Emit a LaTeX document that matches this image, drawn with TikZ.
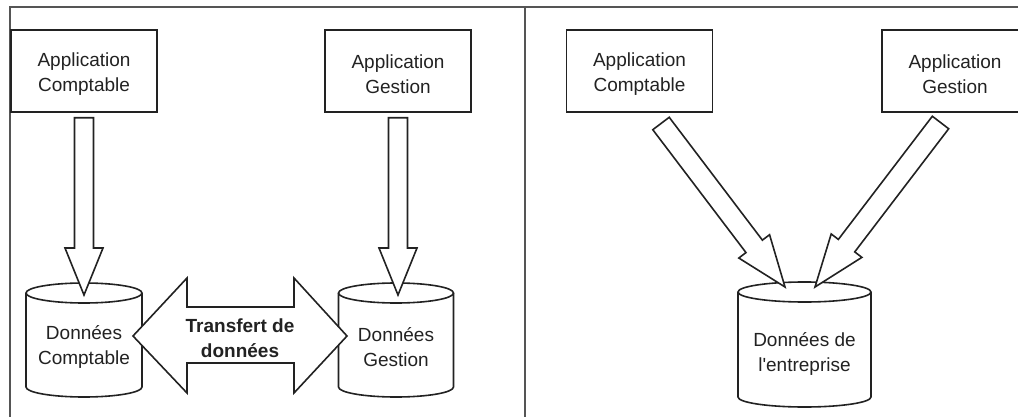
\documentclass[tikz,border=0pt]{standalone}
\usepackage{fontspec}
\setmainfont{Liberation Sans}[Ligatures=TeXOff]
\usetikzlibrary{calc}
\definecolor{ink}{HTML}{222222}
\definecolor{framecol}{HTML}{555555}
% block arrow: #1 tail, #2 tip, #3 shaft half width, #4 head half width, #5 head length
\newcommand\blockarrow[5]{%
  \coordinate (ba-h) at ($(#2)!#5!(#1)$);
  \draw[blk] ($(#1)!#3!90:(#2)$) -- ($(ba-h)!#3!-90:(#1)$) -- ($(ba-h)!#4!-90:(#1)$)
    -- (#2) -- ($(ba-h)!#4!90:(#1)$) -- ($(ba-h)!#3!90:(#1)$) -- ($(#1)!#3!-90:(#2)$) -- cycle;}
% cylinder: #1 cx, #2 top y, #3 bottom y, #4 rx
\newcommand\drumshape[4]{%
  \draw[blk] ({#1-#4},#2) -- ({#1-#4},#3) arc[start angle=180,end angle=360,x radius=#4pt,y radius=10pt] -- ({#1+#4},#2);
  \draw[blk] (#1,#2) ellipse[x radius=#4pt,y radius=10pt];}
\newcommand\topstrut{\rule{0pt}{20pt}}
\begin{document}
\begin{tikzpicture}[x=1pt,y=-1pt,
  blk/.style={draw=ink,line width=1.6pt,fill=white,line join=miter},
  appbox/.style={draw=ink,line width=1.6pt,minimum width=146pt,minimum height=82pt,
    align=center,font=\fontsize{19}{25}\selectfont,text=ink,inner sep=0pt},
  lbl/.style={align=center,font=\fontsize{19}{25}\selectfont,text=ink,inner sep=0pt},
  framel/.style={draw=framecol,line width=1.5pt}]
\useasboundingbox (0,0) rectangle (1018,417);
\begin{scope}
\clip (0,0) rectangle (1018,417);
% frame
\draw[framel] (10,417) -- (10,7) -- (1018,7);
\draw[framecol,line width=2.6pt] (525,7) -- (525,417);

% ---------- left panel ----------
\node[appbox] (ac1) at (84,71) {\topstrut Application\\Comptable};
\node[appbox] (ag1) at (398,71) {\topstrut Application\\Gestion};

\drumshape{84}{293}{387}{58}
\drumshape{396}{293}{387}{57.5}
\node[lbl] (dc1) at (84,347) {Données\\Comptable};
\node[lbl] (dg1) at (396,347) {Données\\Gestion};

\coordinate (t1) at ($(ac1.south)+(0,5)$);
\coordinate (p1) at (84,295);
\coordinate (t2) at ($(ag1.south)+(0,5)$);
\coordinate (p2) at (398,295);
\blockarrow{t1}{p1}{9.5pt}{19pt}{47pt}
\blockarrow{t2}{p2}{9.5pt}{19pt}{47pt}

% double arrow
\coordinate (dl) at (133,336);
\coordinate (dr) at (347,336);
\draw[blk] (dl) -- ($(dl)+(54,-58)$) -- ($(dl)+(54,-29)$) -- ($(dr)+(-53,-29)$) -- ($(dr)+(-53,-58)$)
  -- (dr) -- ($(dr)+(-53,57)$) -- ($(dr)+(-53,27)$) -- ($(dl)+(54,27)$) -- ($(dl)+(54,57)$) -- cycle;
\node[lbl,font=\fontsize{19}{25}\selectfont\bfseries] (tr) at (240,338) {Transfert de\\données};

% ---------- right panel ----------
\node[appbox] (ac2) at (639.5,71) {\topstrut Application\\Comptable};
\node[appbox] (ag2) at (955,71) {\topstrut Application\\Gestion};

\drumshape{804.5}{292}{397}{66.5}
\node[lbl] (de) at (804.5,354) {Données de\\l'entreprise};

\coordinate (t3) at (661,123.5);
\coordinate (p3) at (785,287);
\coordinate (t4) at (940.5,122.5);
\coordinate (p4) at (815,287);
\blockarrow{t3}{p3}{10.3pt}{19.3pt}{51pt}
\blockarrow{t4}{p4}{10.3pt}{19.3pt}{52pt}
\end{scope}
\end{tikzpicture}
\end{document}
